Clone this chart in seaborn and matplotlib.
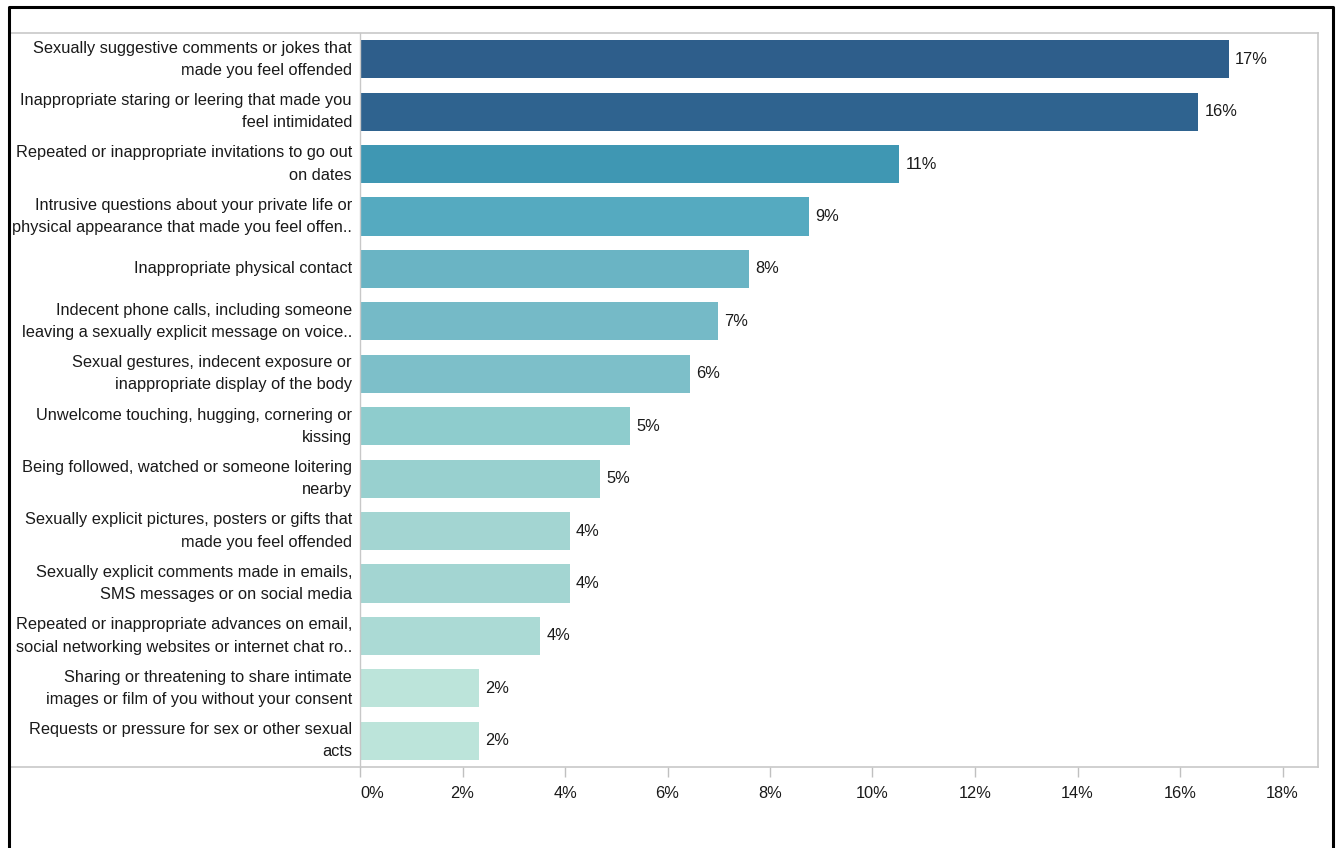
import matplotlib
matplotlib.use("Agg")
import matplotlib.pyplot as plt
from matplotlib.colors import LinearSegmentedColormap, Normalize
from matplotlib.lines import Line2D
from matplotlib.transforms import blended_transform_factory, ScaledTranslation
import seaborn as sns
import pandas as pd

# Share of respondents (%) who experienced each behaviour
categories = [
    "Sexually suggestive comments or jokes that\nmade you feel offended",
    "Inappropriate staring or leering that made you\nfeel intimidated",
    "Repeated or inappropriate invitations to go out\non dates",
    "Intrusive questions about your private life or\nphysical appearance that made you feel offen..",
    "Inappropriate physical contact",
    "Indecent phone calls, including someone\nleaving a sexually explicit message on voice..",
    "Sexual gestures, indecent exposure or\ninappropriate display of the body",
    "Unwelcome touching, hugging, cornering or\nkissing",
    "Being followed, watched or someone loitering\nnearby",
    "Sexually explicit pictures, posters or gifts that\nmade you feel offended",
    "Sexually explicit comments made in emails,\nSMS messages or on social media",
    "Repeated or inappropriate advances on email,\nsocial networking websites or internet chat ro..",
    "Sharing or threatening to share intimate\nimages or film of you without your consent",
    "Requests or pressure for sex or other sexual\nacts",
]
values = [16.95, 16.36, 10.52, 8.77, 7.59, 6.99, 6.44, 5.27, 4.68, 4.09, 4.09, 3.52, 2.32, 2.32]
x_ticks = [0, 2, 4, 6, 8, 10, 12, 14, 16, 18]

df = pd.DataFrame({"behaviour": categories, "pct": values})

# Sequential blue-teal scale coloured by value
cmap = LinearSegmentedColormap.from_list(
    "blue_teal",
    [(0.00, "#bce4da"), (0.12, "#a2d5d2"), (0.20, "#8ecccd"), (0.28, "#7ebfc9"),
     (0.36, "#6ab4c4"), (0.44, "#55aac0"), (0.56, "#3f97b3"), (0.78, "#357aa2"),
     (1.00, "#2e5e8b")],
)
norm = Normalize(vmin=min(values), vmax=max(values))
palette = {c: cmap(norm(v)) for c, v in zip(categories, values)}

W, H = 1342, 848
fig = plt.figure(figsize=(W / 100, H / 100), dpi=100)
fig.patch.set_facecolor("white")
plt.rcParams["font.family"] = ["Liberation Sans", "DejaVu Sans"]

left, right, top, bottom = 360, 1318, 33, 767
ax = fig.add_axes([left / W, 1 - bottom / H, (right - left) / W, (bottom - top) / H])

sns.barplot(data=df, x="pct", y="behaviour", hue="behaviour", palette=palette,
            legend=False, width=0.73, ax=ax, saturation=1, orient="h")

ax.set_xlim(0, (right - left) / 51.25)
ax.set_ylim(len(categories) - 0.5, -0.5)
ax.set_xlabel("")
ax.set_ylabel("")
for s in ax.spines.values():
    s.set_visible(False)

txt = "#1a1a1a"
fs = 11.8
ax.set_xticks(x_ticks)
ax.set_xticklabels([f"{t}%" for t in x_ticks], fontsize=fs, color=txt)
ax.tick_params(axis="x", length=7, width=1, color="#c0c0c0", pad=7)
ax.get_xticklabels()[0].set_horizontalalignment("left")
ax.get_xticklabels()[0].set_x(0.12)

# Category labels, right-aligned just left of the bars
ax.set_yticks(range(len(categories)))
ax.set_yticklabels([])
ax.tick_params(axis="y", length=0)
ylab_tr = blended_transform_factory(ax.transAxes, ax.transData) + \
    ScaledTranslation(-8 / 100, 0, fig.dpi_scale_trans)
for i, c in enumerate(categories):
    ax.text(0, i, c, transform=ylab_tr, ha="right", va="center", fontsize=fs,
            color=txt, linespacing=1.6)

# Value labels at bar ends
for i, v in enumerate(values):
    ax.text(v + 0.12, i, f"{v:.0f}%", va="center", ha="left", fontsize=fs, color=txt)

# Frame lines in figure pixels
def fx(px):
    return px / W

def fy(py):
    return 1 - py / H

grey = "#c8c8c8"
fig.add_artist(Line2D([fx(9), fx(right)], [fy(top), fy(top)], color=grey, lw=1.2))
fig.add_artist(Line2D([fx(9), fx(right)], [fy(bottom), fy(bottom)], color=grey, lw=1.2))
fig.add_artist(Line2D([fx(left), fx(left)], [fy(top), fy(bottom)], color=grey, lw=1.0))
fig.add_artist(Line2D([fx(right), fx(right)], [fy(top), fy(bottom)], color=grey, lw=1.2))

# Outer black border
fig.add_artist(Line2D([fx(9), fx(9), fx(1333), fx(1333)],
                      [fy(H + 5), fy(7), fy(7), fy(H + 5)], color="black", lw=2.2))

fig.savefig("out.png", dpi=100, facecolor="white")
